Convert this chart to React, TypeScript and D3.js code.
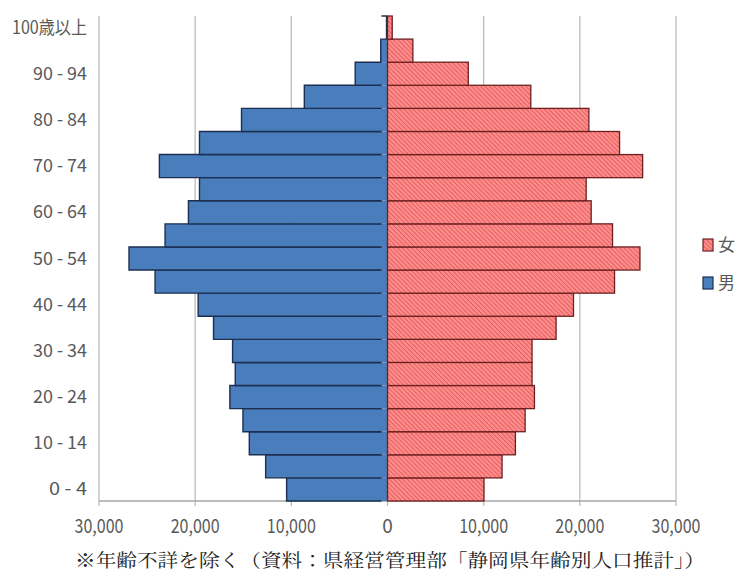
import React from "react";
import * as d3 from "d3";

const ageGroups = ["0 - 4","5 - 9","10 - 14","15 - 19","20 - 24","25 - 29","30 - 34","35 - 39","40 - 44","45 - 49","50 - 54","55 - 59","60 - 64","65 - 69","70 - 74","75 - 79","80 - 84","85 - 89","90 - 94","95 - 99","100歳以上"];
const male = [10490,12670,14370,15030,16390,15830,16110,18090,19690,24170,26880,23130,20700,19550,23720,19550,15180,8650,3360,700,100];
const female = [10030,11910,13300,14310,15280,15030,15030,17530,19340,23610,26250,23400,21180,20660,26530,24130,20940,14900,8400,2640,490];
const tickValues = [-30000,-20000,-10000,0,10000,20000,30000];
const seriesNames = ["女","男"];
const caption = "※年齢不詳を除く（資料：県経営管理部「静岡県年齢別人口推計」）";

const W = 741, H = 572;
const left = 99, right = 676, top = 16, bottom = 501;

export default function App() {
  const x = d3.scaleLinear().domain([-30000, 30000]).range([left, right]);
  const y = d3.scaleBand().domain(ageGroups.slice().reverse()).range([top, bottom]).padding(0);
  const fmt = d3.format(",");
  const labelColor = "#595959";
  const font = "'Noto Sans CJK JP', 'Noto Sans', sans-serif";
  const bw = y.bandwidth();
  return (
    <svg width={W} height={H} style={{ position: "absolute", left: 0, top: 0, background: "#fff" }}>
      <defs>
        <pattern id="hatch" patternUnits="userSpaceOnUse" width="3.2" height="3.2" patternTransform="rotate(-45)">
          <rect width="3.2" height="3.2" fill="#ff8a8a" />
          <line x1="0" y1="0" x2="0" y2="3.2" stroke="#c84848" strokeWidth="1.1" />
        </pattern>
      </defs>
      {tickValues.map((t) => (
        <line key={"g" + t} x1={x(t)} x2={x(t)} y1={top} y2={bottom + 5} stroke="#bdbdbd" strokeWidth={1.3} />
      ))}
      <line x1={left} x2={right} y1={bottom} y2={bottom} stroke="#a6a6a6" strokeWidth={1.3} />
      {ageGroups.map((a, i) => {
        const y0 = y(a)!;
        const xl = x(-male[i]);
        const x0 = x(0);
        return (
          <g key={"m" + a}>
            <rect x={xl} y={y0} width={x0 - xl} height={bw} fill="#4a7dbb" />
            <path d={`M${x0 - 6},${y0}H${xl}V${y0 + bw}H${x0 - 6}`} fill="none" stroke="#1c2f52" strokeWidth={1.4} />
          </g>
        );
      })}
      {ageGroups.map((a, i) => {
        const y0 = y(a)!;
        const x0 = x(0);
        const xr = x(female[i]);
        return (
          <rect key={"f" + a} x={x0} y={y0} width={xr - x0} height={bw} fill="url(#hatch)" stroke="#6e1f1f" strokeWidth={1.3} />
        );
      })}
      {ageGroups.map((a, i) =>
        i % 2 === 0 ? (
          <text key={"l" + a} x={87} y={y(a)! + bw / 2 + 6} textAnchor="end" fontFamily={font} fontSize={18} fill={labelColor}
            textLength={a.includes("歳") ? 75 : a.length === 5 ? 38 : 54} lengthAdjust="spacingAndGlyphs">
            {a}
          </text>
        ) : null
      )}
      {tickValues.map((t) => {
        const s = fmt(Math.abs(t));
        return (
          <text key={"t" + t} x={x(t)} y={533} textAnchor="middle" fontFamily={font} fontSize={19} fill={labelColor}
            textLength={s.length > 1 ? 49 : undefined} lengthAdjust="spacingAndGlyphs">
            {s}
          </text>
        );
      })}
      <g>
        <rect x={703} y={239} width={10} height={12} fill="url(#hatch)" stroke="#6e1f1f" strokeWidth={1.2} />
        <text x={718} y={251} fontFamily={font} fontSize={17} fill={labelColor}>{seriesNames[0]}</text>
        <rect x={703} y={277} width={10} height={12} fill="#4a7dbb" stroke="#1c2f52" strokeWidth={1.2} />
        <text x={718} y={289} fontFamily={font} fontSize={17} fill={labelColor}>{seriesNames[1]}</text>
      </g>
      <text x={390} y={567} textAnchor="middle" fontFamily="'Noto Serif CJK JP', serif" fontSize={18.5} fill="#222"
        textLength={630} lengthAdjust="spacingAndGlyphs">
        {caption}
      </text>
    </svg>
  );
}
